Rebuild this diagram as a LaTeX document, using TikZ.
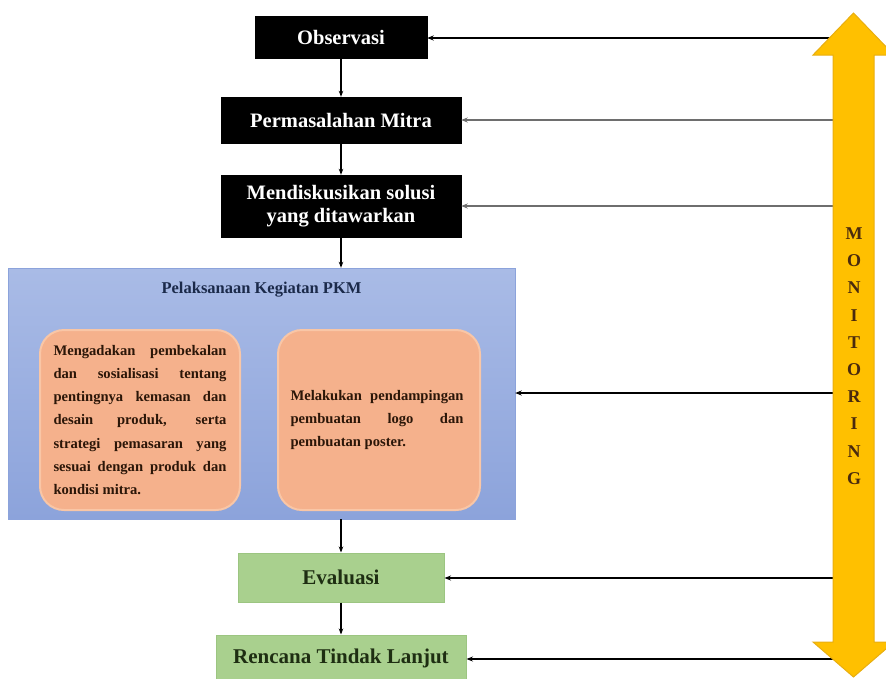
\documentclass[tikz,border=0pt]{standalone}
\usepackage{fontspec}
\setmainfont{Liberation Serif}
\usetikzlibrary{arrows.meta,shadings}
\definecolor{gold}{HTML}{FFC000}
\definecolor{goldedge}{HTML}{E8AE10}
\definecolor{blueTop}{HTML}{A9BBE6}
\definecolor{blueBot}{HTML}{8CA3DB}
\definecolor{orangeFill}{HTML}{F5B18C}
\definecolor{orangeEdge}{HTML}{F9C6A6}
\definecolor{greenFill}{HTML}{A9D08E}
\definecolor{greenEdge}{HTML}{9CC581}
\definecolor{navytext}{HTML}{1B2A4A}
\definecolor{browntext}{HTML}{2B1608}
\definecolor{greentext}{HTML}{1E2E12}
\definecolor{monotext}{HTML}{4A2A0E}
\definecolor{grayline}{HTML}{6E6E6E}
\tikzset{
  blackbox/.style={draw=black, fill=black, text=white, inner sep=0pt,
    font=\fontsize{20.5}{23}\selectfont\bfseries, align=center},
  greenbox/.style={draw=greenEdge, line width=1pt, fill=greenFill, text=greentext, inner sep=0pt,
    font=\fontsize{21}{24}\selectfont\bfseries},
  orangebox/.style={draw=orangeEdge, line width=2pt, fill=orangeFill, rounded corners=24pt, inner sep=0pt},
  bodytext/.style={text=browntext, text width=173pt, align=justify, inner sep=0pt,
    font=\fontsize{14.6}{23.2}\selectfont\bfseries},
  flow/.style={-{Stealth[length=6pt,width=4.5pt]}, line width=1.2pt, black},
  mon/.style={-{Stealth[length=6.5pt,width=5pt]}, line width=1.2pt}
}
\newcommand{\jl}[1]{\makebox[173pt][s]{#1}\\}
\begin{document}
\begin{tikzpicture}[x=1pt,y=-1pt]
\useasboundingbox (0,0) rectangle (886,678);
% flow boxes
\node[blackbox, minimum width=172pt, minimum height=42pt] (obs) at (341,37) {Observasi};
\node[blackbox, minimum width=240pt, minimum height=46pt] (perm) at (341,120) {Permasalahan Mitra};
\node[blackbox, minimum width=240pt, minimum height=62pt] (mend) at (341,206) {Mendiskusikan solusi\\yang ditawarkan};
\node[draw=blueBot, line width=0.4pt, top color=blueTop, bottom color=blueBot, minimum width=507pt, minimum height=251pt, inner sep=0pt] (pkm) at (261.5,393.5) {};
\node[text=navytext, font=\fontsize{16.5}{20}\selectfont\bfseries, inner sep=0pt] (pkmtitle) at (261.5,290) {Pelaksanaan Kegiatan PKM};
\node[orangebox, minimum width=200pt, minimum height=180pt] (left) at (140,420) {};
\node[orangebox, minimum width=202pt, minimum height=180pt] (right) at (379,420) {};
\node[bodytext] (lefttext) at (left.center) {\jl{Mengadakan pembekalan}\jl{dan sosialisasi tentang}\jl{pentingnya kemasan dan}\jl{desain produk, serta}\jl{strategi pemasaran yang}\jl{sesuai dengan produk dan}kondisi mitra.};
\node[bodytext] (righttext) at (377,420) {\jl{Melakukan pendampingan}\jl{pembuatan logo dan}pembuatan poster.};
\node[greenbox, minimum width=206pt, minimum height=49pt] (eval) at (341,577.5) {Evaluasi};
\node[greenbox, minimum width=250pt, minimum height=46pt] (renc) at (341,658) {Rencana Tindak Lanjut};
% vertical flow arrows
\draw[flow] (obs.south) -- (perm.north);
\draw[flow] (perm.south) -- (mend.north);
\draw[flow] (mend.south) -- (pkm.north -| mend.south);
\draw[flow] (pkm.south -| eval.north) -- (eval.north);
\draw[flow] (eval.south) -- (renc.north);
% monitoring connectors
\coordinate (m1) at (840,38);
\coordinate (m2) at (840,120);
\coordinate (m3) at (840,206);
\coordinate (m4) at (840,393);
\coordinate (m5) at (840,578);
\coordinate (m6) at (836,659);
\draw[mon, black] (m1) -- (m1 -| obs.east);
\draw[mon, grayline] (m2) -- (m2 -| perm.east);
\draw[mon, grayline] (m3) -- (m3 -| mend.east);
\draw[mon, black] (m4) -- (m4 -| pkm.east);
\draw[mon, black] (m5) -- (m5 -| eval.east);
\draw[mon, black] (m6) -- (m6 -| renc.east);
% monitoring double arrow
\draw[fill=gold, draw=goldedge, line width=1pt, line join=miter]
  (853.5,13) -- (894,55) -- (874,55) -- (874,642) -- (894,642) -- (853.5,677)
  -- (813,642) -- (833,642) -- (833,55) -- (813,55) -- cycle;
\node[text=monotext, font=\fontsize{18}{27.2}\selectfont\bfseries, align=center, inner sep=0pt] (monlabel) at (854,356) {M\\O\\N\\I\\T\\O\\R\\I\\N\\G};
\end{tikzpicture}
\end{document}
